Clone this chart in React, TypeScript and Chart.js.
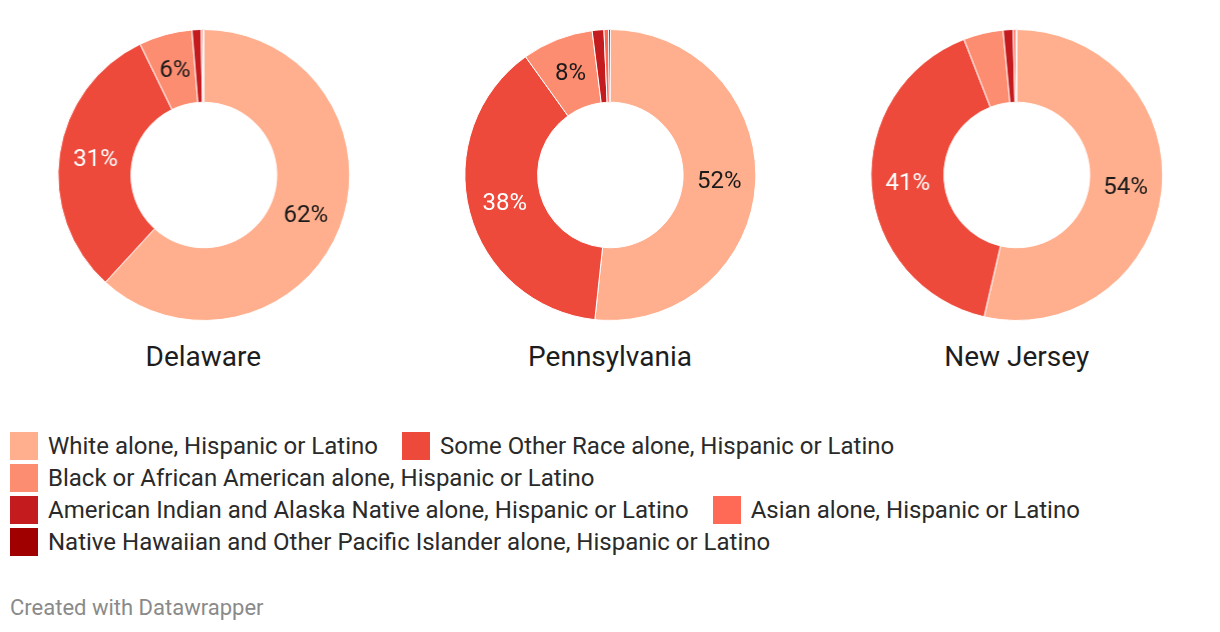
import React, { useEffect, useRef } from "react";
import { Chart, registerables } from "chart.js";

Chart.register(...registerables);

const categories = [
  "White alone, Hispanic or Latino",
  "Some Other Race alone, Hispanic or Latino",
  "Black or African American alone, Hispanic or Latino",
  "American Indian and Alaska Native alone, Hispanic or Latino",
  "Asian alone, Hispanic or Latino",
  "Native Hawaiian and Other Pacific Islander alone, Hispanic or Latino",
];
const colors = ["#ffaf8e", "#ee4a3b", "#fd8d71", "#c41c1e", "#ff6a57", "#a00000"];
const labelColors = ["#1a1a1a", "#ffffff", "#1a1a1a", "#ffffff", "#1a1a1a", "#ffffff"];

const states = ["Delaware", "Pennsylvania", "New Jersey"];
const delawareValues = [61.8, 31.0, 5.9, 1.0, 0.2, 0.1];
const pennsylvaniaValues = [51.7, 38.4, 7.9, 1.3, 0.5, 0.2];
const newJerseyValues = [53.6, 40.5, 4.4, 1.1, 0.3, 0.1];
const stateValues = [delawareValues, pennsylvaniaValues, newJerseyValues];

const FONT = "Roboto, 'Noto Sans', sans-serif";

const labelPlugin = {
  id: "sliceLabels",
  afterDatasetsDraw(chart: any) {
    const ctx = chart.ctx;
    const meta = chart.getDatasetMeta(0);
    const data = chart.data.datasets[0].data as number[];
    ctx.save();
    ctx.font = `24px ${FONT}`;
    ctx.textAlign = "center";
    ctx.textBaseline = "middle";
    meta.data.forEach((arc: any, i: number) => {
      const v = data[i];
      if (v < 5) return;
      const p = arc.tooltipPosition();
      ctx.fillStyle = labelColors[i];
      ctx.fillText(`${Math.round(v)}%`, p.x, p.y + 1);
    });
    ctx.restore();
  },
};

function Donut({ values }: { values: number[] }) {
  const ref = useRef<HTMLCanvasElement>(null);
  useEffect(() => {
    if (!ref.current) return;
    const chart = new Chart(ref.current, {
      type: "doughnut",
      data: {
        labels: categories,
        datasets: [
          {
            data: values,
            backgroundColor: colors,
            borderColor: "#ffffff",
            borderWidth: 1,
          },
        ],
      },
      options: {
        animation: false,
        responsive: true,
        maintainAspectRatio: false,
        cutout: "50%",
        layout: { padding: 0 },
        plugins: {
          legend: { display: false },
          tooltip: { enabled: false },
        },
        events: [],
      },
      plugins: [labelPlugin],
    });
    return () => chart.destroy();
  }, [values]);
  return (
    <div style={{ position: "relative", width: "100%", height: 292 }}>
      <canvas ref={ref} />
    </div>
  );
}

export default function App() {
  return (
    <div
      style={{
        position: "absolute",
        left: 0,
        top: 0,
        width: 1220,
        height: 632,
        background: "#fff",
        fontFamily: FONT,
        color: "#1d1d1d",
      }}
    >
      <div style={{ display: "flex", paddingTop: 29 }}>
        {states.map((s, i) => (
          <div key={s} style={{ flex: 1, display: "flex", flexDirection: "column", alignItems: "center" }}>
            <Donut values={stateValues[i]} />
            <div style={{ marginTop: 21, fontSize: 28, lineHeight: "30px", color: "#1d1d1d" }}>{s}</div>
          </div>
        ))}
      </div>
      <div
        style={{
          position: "absolute",
          top: 430,
          left: 10,
          width: 1190,
          display: "flex",
          flexWrap: "wrap",
        }}
      >
        {categories.map((c, i) => (
          <div key={c} style={{ display: "flex", alignItems: "center", height: 32, marginRight: 24 }}>
            <div style={{ width: 28, height: 28, background: colors[i], marginRight: 10 }} />
            <span style={{ fontSize: 24, lineHeight: "32px", color: "#2a2a2a", whiteSpace: "nowrap" }}>{c}</span>
          </div>
        ))}
      </div>
      <div style={{ position: "absolute", top: 596, left: 10, fontSize: 22, lineHeight: "24px", color: "#8a8a8a" }}>
        Created with Datawrapper
      </div>
    </div>
  );
}
